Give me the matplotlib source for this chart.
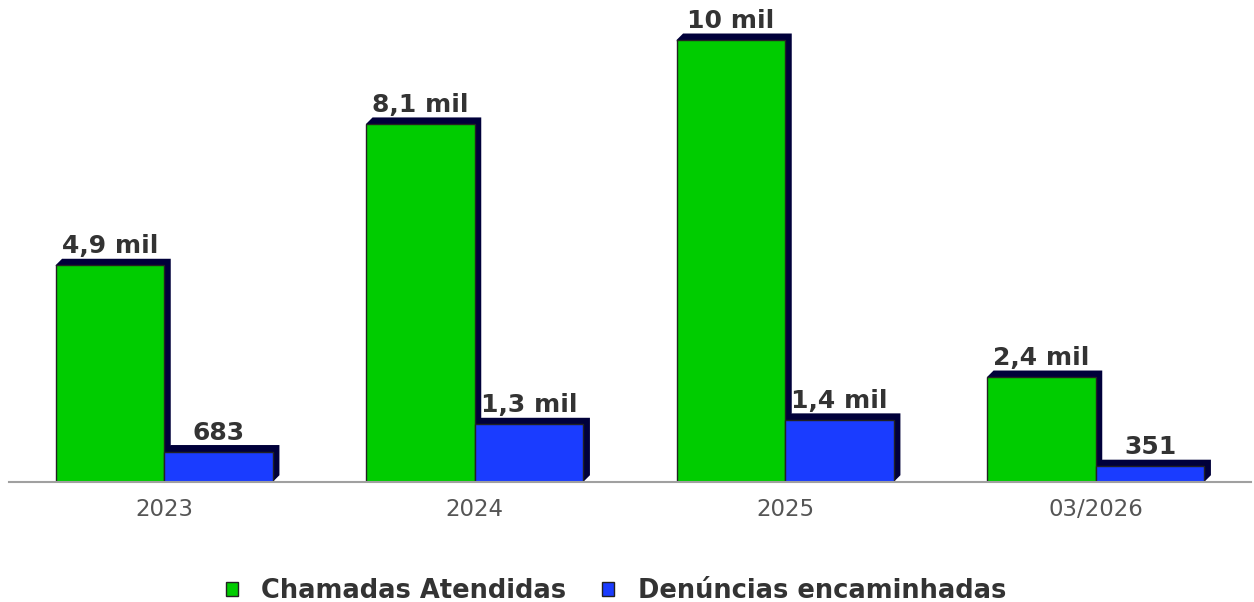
import numpy as np
import matplotlib
matplotlib.use("Agg")
import matplotlib.pyplot as plt
from matplotlib.patches import Polygon, Patch

# data
categories = ["2023", "2024", "2025", "03/2026"]
chamadas = [4900, 8100, 10000, 2370]
denuncias = [683, 1300, 1400, 351]
series_names = ["Chamadas Atendidas", "Denúncias encaminhadas"]

GREEN = "#00cc00"
BLUE = "#1a3cff"
SHADOW = "#00003a"
TXT = "#333333"

W, H, DPI = 1254, 602, 100


def fmt(v):
    if v >= 1000:
        s = f"{v / 1000:.1f}".replace(".", ",")
        if s.endswith(",0"):
            s = s[:-2]
        return s + " mil"
    return str(v)


fig = plt.figure(figsize=(W / DPI, H / DPI), dpi=DPI)
ax_l, ax_r, ax_b, ax_t = 9, 1251, 481.7, 20  # pixel box of the plot area
ax = fig.add_axes([ax_l / W, 1 - ax_b / H, (ax_r - ax_l) / W, (ax_b - ax_t) / H])

xlim = (-0.5, len(categories) - 0.5)
ymax = 10453
ax.set_xlim(*xlim)
ax.set_ylim(0, ymax)

# pixel -> data conversion for the drop shadow
px_x = (xlim[1] - xlim[0]) / (ax_r - ax_l)
px_y = ymax / (ax_b - ax_t)
sdx, sdy = 6.5 * px_x, 6.5 * px_y

x = np.arange(len(categories))
bw = 0.35

for vals, off, color in [(chamadas, -bw / 2, GREEN), (denuncias, bw / 2, BLUE)]:
    for xi, v in zip(x, vals):
        x0 = xi + off - bw / 2
        x1 = xi + off + bw / 2
        shadow = Polygon([(x0, v), (x0 + sdx, v + sdy), (x1 + sdx, v + sdy),
                          (x1 + sdx, sdy), (x1, 0)],
                         closed=True, facecolor=SHADOW, edgecolor="none", zorder=2)
        ax.add_patch(shadow)
    ax.bar(x + off, vals, width=bw, color=color, edgecolor="#222222",
           linewidth=1.0, zorder=3)
    for xi, v in zip(x, vals):
        ax.annotate(fmt(v), (xi + off, v), xytext=(0, 8.6), textcoords="offset points",
                    ha="center", va="baseline", fontsize=18, fontweight="bold",
                    color=TXT, zorder=4)

for s in ["top", "right", "left"]:
    ax.spines[s].set_visible(False)
ax.spines["bottom"].set_color("#a0a0a0")
ax.spines["bottom"].set_linewidth(1.5)
ax.spines["bottom"].set_zorder(5)
ax.set_yticks([])
ax.set_xticks(x)
ax.set_xticklabels(categories, fontsize=16.5, color="#555555")
ax.tick_params(axis="x", length=0, pad=12)

handles = [Patch(facecolor=GREEN, edgecolor="#222222", linewidth=1.0),
           Patch(facecolor=BLUE, edgecolor="#222222", linewidth=1.0)]
leg = fig.legend(handles, series_names, loc="center", bbox_to_anchor=(0.491, 1 - 591 / H),
                 ncol=2, frameon=False, handlelength=0.48, handleheight=0.48,
                 handletextpad=0.9, columnspacing=1.4,
                 prop={"size": 18.5, "weight": "bold"})
for t in leg.get_texts():
    t.set_color(TXT)

fig.savefig("out.png", dpi=DPI)
